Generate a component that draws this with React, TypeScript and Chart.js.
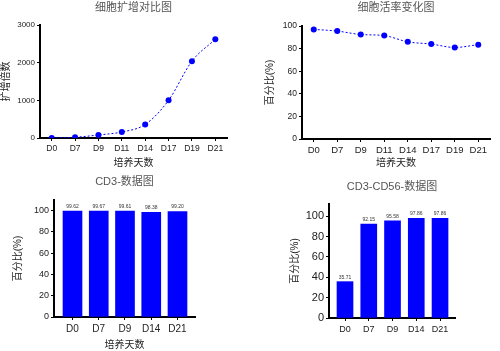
import React, { useEffect, useRef } from 'react';
import { Chart, registerables } from 'chart.js';
Chart.register(...registerables);

const FONT = "'Liberation Sans', 'Noto Sans CJK SC', sans-serif";
const BLUE = '#0000ff';
const TICK_COLOR = '#222';
const TITLE_COLOR = '#555';

// Panel 1: expansion fold
const expandDays = ['D0', 'D7', 'D9', 'D11', 'D14', 'D17', 'D19', 'D21'];
const expandFold = [0, 20, 80, 160, 360, 1000, 2040, 2620];
// Panel 2: viability
const viabilityDays = ['D0', 'D7', 'D9', 'D11', 'D14', 'D17', 'D19', 'D21'];
const viability = [97, 95.5, 92.5, 91.5, 86, 84, 81, 83.5];
// Panel 3: CD3
const cd3Days = ['D0', 'D7', 'D9', 'D14', 'D21'];
const cd3Values = [99.62, 99.67, 99.61, 98.38, 99.2];
// Panel 4: CD3 CD56
const nkDays = ['D0', 'D7', 'D9', 'D14', 'D21'];
const nkValues = [35.71, 92.15, 95.58, 97.86, 97.86];

const titles = ['细胞扩增对比图', '细胞活率变化图', 'CD3-数据图', 'CD3-CD56-数据图'];
const xTitle = '培养天数';
const yTitles = ['扩增倍数', '百分比(%)', '百分比(%)', '百分比(%)'];

const valueLabelPlugin = {
  id: 'valueLabels',
  afterDatasetsDraw(chart: any) {
    const ctx = chart.ctx;
    const meta = chart.getDatasetMeta(0);
    const data = chart.data.datasets[0].data;
    ctx.save();
    ctx.fillStyle = '#333';
    ctx.font = `5px ${FONT}`;
    ctx.textAlign = 'center';
    ctx.textBaseline = 'bottom';
    meta.data.forEach((el: any, i: number) => {
      const v = data[i];
      const y = typeof v === 'object' ? v.y : v;
      ctx.fillText(y.toFixed(2), el.x, el.y - 2);
    });
    ctx.restore();
  },
};

function axisBorder() {
  return { display: true, color: '#000', width: 2 };
}
function tickGrid() {
  return { display: true, drawOnChartArea: false, drawTicks: true, tickLength: 3, color: '#000', lineWidth: 1 };
}
const plainNum = (v: any) => String(v);

function lineConfig(labels: string[], values: number[], p: any) {
  return {
    type: 'line',
    data: {
      labels,
      datasets: [
        {
          data: values,
          borderColor: BLUE,
          backgroundColor: BLUE,
          borderWidth: 1,
          borderDash: [2, 2],
          pointRadius: 3,
          pointBackgroundColor: BLUE,
          pointBorderWidth: 0,
          cubicInterpolationMode: 'monotone',
        },
      ],
    },
    options: {
      responsive: false,
      animation: false,
      devicePixelRatio: 1,
      layout: { padding: { left: 0, right: p.right, top: 0, bottom: 0 } },
      plugins: {
        legend: { display: false },
        tooltip: { enabled: false },
        title: {
          display: true,
          text: p.title,
          fullSize: false,
          color: TITLE_COLOR,
          font: { family: FONT, size: 11, weight: 'normal' },
          padding: { top: p.titleTop, bottom: p.titleBottom },
        },
      },
      scales: {
        x: {
          type: 'category',
          offset: true,
          border: axisBorder(),
          grid: tickGrid(),
          ticks: { color: TICK_COLOR, font: { family: FONT, size: p.xTick }, padding: 3, maxRotation: 0, autoSkip: false },
          title: { display: true, text: xTitle, color: TICK_COLOR, font: { family: FONT, size: 10 }, padding: { top: 0, bottom: p.xTitlePad } },
          afterFit: (s: any) => { s.height = p.xHeight; },
        },
        y: {
          min: 0,
          max: p.max,
          border: axisBorder(),
          grid: tickGrid(),
          ticks: { stepSize: p.step, color: TICK_COLOR, font: { family: FONT, size: p.yTick }, padding: 2, callback: plainNum },
          title: { display: true, text: p.yTitle, color: TICK_COLOR, font: { family: FONT, size: 10 }, padding: { top: p.yTitlePad, bottom: 0 } },
          afterFit: (s: any) => { s.width = p.yWidth; },
        },
      },
    },
  };
}

function barConfig(labels: string[], values: number[], p: any) {
  return {
    type: 'bar',
    data: {
      datasets: [
        {
          data: values.map((v, i) => ({ x: i, y: v })),
          backgroundColor: BLUE,
          borderWidth: 0,
          barThickness: p.barWidth,
        },
      ],
    },
    plugins: [valueLabelPlugin],
    options: {
      responsive: false,
      animation: false,
      devicePixelRatio: 1,
      layout: { padding: { left: 0, right: p.right, top: 0, bottom: 0 } },
      plugins: {
        legend: { display: false },
        tooltip: { enabled: false },
        title: {
          display: true,
          text: p.title,
          fullSize: false,
          color: TITLE_COLOR,
          font: { family: FONT, size: 11, weight: 'normal' },
          padding: { top: p.titleTop, bottom: p.titleBottom },
        },
      },
      scales: {
        x: {
          type: 'linear',
          offset: false,
          min: p.xMin,
          max: p.xMax,
          border: axisBorder(),
          grid: { ...tickGrid(), offset: false },
          afterBuildTicks: (s: any) => { s.ticks = labels.map((_, i) => ({ value: i })); },
          ticks: {
            color: TICK_COLOR,
            font: { family: FONT, size: p.xTick },
            padding: 3,
            maxRotation: 0,
            autoSkip: false,
            callback: (v: any) => labels[Math.round(v)] ?? '',
          },
          title: p.xTitle
            ? { display: true, text: xTitle, color: TICK_COLOR, font: { family: FONT, size: 10 }, padding: { top: 0, bottom: p.xTitlePad } }
            : { display: false },
          afterFit: (s: any) => { s.height = p.xHeight; },
        },
        y: {
          min: 0,
          max: p.max,
          border: axisBorder(),
          grid: tickGrid(),
          afterBuildTicks: (s: any) => { s.ticks = s.ticks.filter((t: any) => t.value <= 100); },
          ticks: { stepSize: 20, color: TICK_COLOR, font: { family: FONT, size: p.yTick }, padding: 2, callback: plainNum },
          title: { display: true, text: p.yTitle, color: TICK_COLOR, font: { family: FONT, size: 10 }, padding: { top: p.yTitlePad, bottom: 0 } },
          afterFit: (s: any) => { s.width = p.yWidth; },
        },
      },
    },
  };
}

function Panel({ left, top, width, height, config }: any) {
  const ref = useRef<HTMLCanvasElement>(null);
  useEffect(() => {
    const chart = new Chart(ref.current as HTMLCanvasElement, config);
    return () => chart.destroy();
  }, []);
  return (
    <canvas
      ref={ref}
      width={width}
      height={height}
      style={{ position: 'absolute', left, top, width, height }}
    />
  );
}

export default function App() {
  const c1 = lineConfig(expandDays, expandFold, {
    title: titles[0], yTitle: yTitles[0], right: 23, titleTop: 1, titleBottom: 10.8,
    xHeight: 37, yWidth: 40, max: 3000, step: 1000, xTick: 8.5, yTick: 8, xTitlePad: 6, yTitlePad: 0,
  });
  const c2 = lineConfig(viabilityDays, viability, {
    title: titles[1], yTitle: yTitles[1], right: 10, titleTop: 1.5, titleBottom: 11.3,
    xHeight: 36, yWidth: 52, max: 100, step: 20, xTick: 9.5, yTick: 8.5, xTitlePad: 6, yTitlePad: 14,
  });
  const c3 = barConfig(cd3Days, cd3Values, {
    title: titles[2], yTitle: yTitles[2], right: 55, titleTop: 0.4, titleBottom: 11.4,
    xHeight: 34, yWidth: 54, max: 110, xTick: 10, yTick: 9, xTitle: true, xTitlePad: 0, yTitlePad: 12,
    xMin: -0.705, xMax: 4.667, barWidth: 19,
  });
  const c4 = barConfig(nkDays, nkValues, {
    title: titles[3], yTitle: yTitles[3], right: 45, titleTop: 5.4, titleBottom: 10.4,
    xHeight: 33, yWidth: 79, max: 112, xTick: 9, yTick: 11, xTitle: false, xTitlePad: 0, yTitlePad: 39,
    xMin: -0.674, xMax: 4.63, barWidth: 16,
  });
  return (
    <div style={{ position: 'absolute', left: 0, top: 0, width: 500, height: 351, background: '#fff' }}>
      <Panel left={0} top={0} width={250} height={175} config={c1} />
      <Panel left={250} top={0} width={250} height={175} config={c2} />
      <Panel left={0} top={175} width={250} height={176} config={c3} />
      <Panel left={250} top={175} width={250} height={176} config={c4} />
    </div>
  );
}
